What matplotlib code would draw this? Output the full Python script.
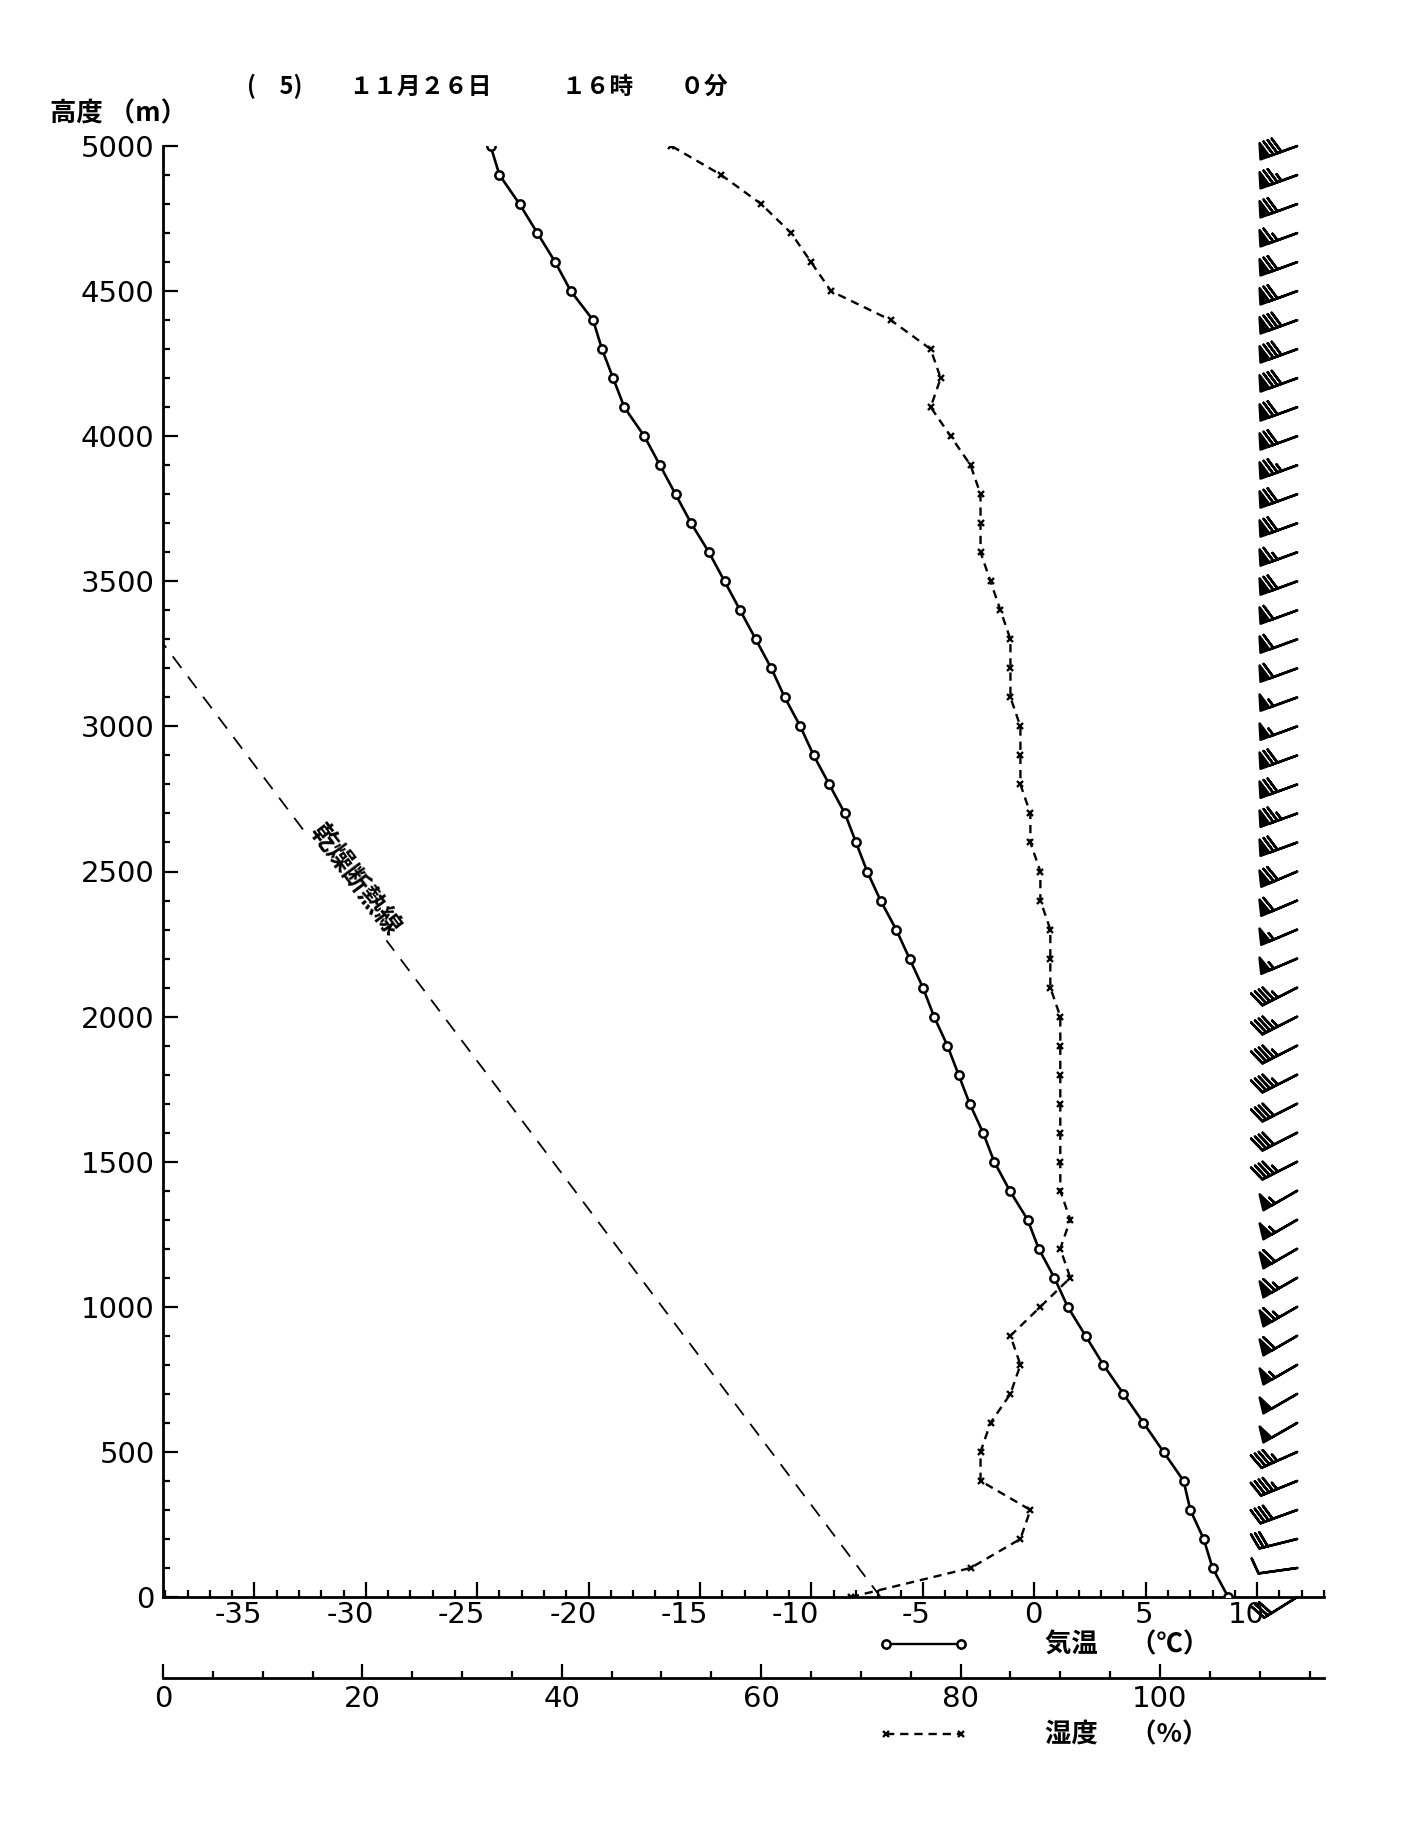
import numpy as np
import matplotlib.pyplot as plt
from matplotlib.lines import Line2D
from matplotlib.ticker import FixedLocator, MultipleLocator
import matplotlib.transforms as mtransforms

plt.rcParams['font.family'] = ['DejaVu Sans', 'Noto Sans CJK JP']
plt.rcParams['axes.unicode_minus'] = False
JP = ['Noto Sans CJK JP', 'DejaVu Sans']

# observation levels (m), 0 -> 5000
heights = list(range(0, 5001, 100))

# air temperature (deg C)
temp = [8.7, 8.0, 7.6, 7.0, 6.7, 5.8, 4.9, 4.0, 3.1, 2.3,
        1.5, 0.9, 0.2, -0.3, -1.1, -1.8, -2.3, -2.9, -3.4, -3.9,
        -4.5, -5.0, -5.6, -6.2, -6.9, -7.5, -8.0, -8.5, -9.2, -9.9,
        -10.5, -11.2, -11.8, -12.5, -13.2, -13.9, -14.6, -15.4, -16.1, -16.8,
        -17.5, -18.4, -18.9, -19.4, -19.8, -20.8, -21.5, -22.3, -23.1, -24.0,
        -24.4]

# relative humidity (%)
humid = [69, 81, 86, 87, 82, 82, 83, 85, 86, 85,
         88, 91, 90, 91, 90, 90, 90, 90, 90, 90,
         90, 89, 89, 89, 88, 88, 87, 87, 86, 86,
         86, 85, 85, 85, 84, 83, 82, 82, 82, 81,
         79, 77, 78, 77, 73, 67, 65, 63, 60, 56,
         51]

# wind speed (kt) and direction (deg, from)
wind_spd = [30, 10, 30, 40, 45, 45, 50, 50, 55, 60,
            65, 65, 60, 55, 55, 45, 40, 40, 45, 45,
            45, 45, 55, 55, 60, 70, 70, 75, 70, 70,
            55, 55, 60, 60, 60, 70, 65, 70, 70, 75,
            70, 70, 80, 80, 80, 70, 70, 65, 70, 75,
            80]
wind_dir = [238, 262, 256, 250, 248, 246, 240, 240, 240, 240,
            240, 240, 240, 240, 240, 243, 243, 243, 243, 243,
            243, 243, 247, 247, 247, 247, 250, 250, 250, 250,
            250, 250, 250, 250, 250, 250, 250, 250, 250, 250,
            250, 250, 250, 250, 250, 250, 250, 250, 250, 250,
            250]

# dry adiabat: surface temperature and lapse rate
dry_t0 = -6.9
dry_lapse = 9.8  # deg C / km

temp_ticks = [-35, -30, -25, -20, -15, -10, -5, 0, 5, 10]
hum_ticks = [0, 20, 40, 60, 80, 100]
height_ticks = list(range(0, 5001, 500))

title = '(　5)　　１１月２６日　　　１６時　　０分'

W, H = 1419, 1821
fig = plt.figure(figsize=(W / 100, H / 100), dpi=100)
t_lo, t_hi = -39.1, 13.0
ax = fig.add_axes([163 / W, 1 - 1597 / H, (1324 - 163) / W, (1597 - 146) / H])
ax.set_xlim(t_lo, t_hi)
ax.set_ylim(0, 5000)
for s in ('top', 'right'):
    ax.spines[s].set_visible(False)
for s in ('left', 'bottom'):
    ax.spines[s].set_linewidth(2.0)

# temperature profile
ax.plot(temp, heights, color='k', lw=1.9, marker='o', ms=6,
        mfc='white', mec='k', mew=1.8, zorder=4)
# humidity profile, mapped onto the temperature axis through the second scale
h_lo, h_hi = 0, 116.45
hum_as_t = [t_lo + (h - h_lo) / (h_hi - h_lo) * (t_hi - t_lo) for h in humid]
ax.plot(hum_as_t, heights, color='k', lw=1.7, dashes=(3.5, 2.5),
        marker='x', ms=5, mew=1.7, zorder=3)

# dry adiabat
z_top = (dry_t0 - t_lo) / dry_lapse * 1000
ax.plot([dry_t0, t_lo], [0, z_top], color='k', lw=1.3, dashes=(8, 6))
zt = 2470
ax.text(dry_t0 - dry_lapse * zt / 1000 + 0.6, zt, '乾燥断熱線', family=JP,
        fontsize=19, fontweight='bold', rotation=-53, rotation_mode='anchor',
        ha='center', va='center',
        bbox=dict(boxstyle='square,pad=0.05', fc='white', ec='none'))

# wind barbs
spd = np.array(wind_spd, dtype=float)
d = np.deg2rad(wind_dir)
u = -spd * np.sin(d)
v = -spd * np.cos(d)
ax.barbs(np.full(len(heights), 11.8), heights, u, v, length=7.5,
         sizes=dict(spacing=0.11, height=0.4, width=0.24),
         lw=1.8, color='k', clip_on=False, zorder=5)

# axes ticks
ax.yaxis.set_major_locator(FixedLocator(height_ticks))
ax.yaxis.set_minor_locator(MultipleLocator(100))
ax.xaxis.set_major_locator(FixedLocator(temp_ticks))
ax.xaxis.set_minor_locator(MultipleLocator(1))
ax.tick_params(which='both', direction='in', width=1.6, labelsize=21)
ax.tick_params(which='major', length=11)
ax.tick_params(which='minor', length=5)
ax.tick_params(axis='y', pad=6)
ax.tick_params(axis='x', pad=3)
ax.set_yticklabels([str(t) for t in height_ticks])
ax.set_xticklabels([str(t) for t in temp_ticks])
off = mtransforms.ScaledTranslation(8 / 100, 0, fig.dpi_scale_trans)
for lbl in ax.get_xticklabels():
    lbl.set_ha('right')
    lbl.set_transform(lbl.get_transform() + off)

# humidity scale
ax2 = fig.add_axes([163 / W, 1 - 1678 / H, (1324 - 163) / W, 0.001])
ax2.set_xlim(h_lo, h_hi)
ax2.set_yticks([])
for s in ('top', 'right', 'left'):
    ax2.spines[s].set_visible(False)
ax2.spines['bottom'].set_linewidth(2.0)
ax2.xaxis.set_major_locator(FixedLocator(hum_ticks))
ax2.xaxis.set_minor_locator(MultipleLocator(5))
ax2.tick_params(which='both', direction='in', width=1.6, labelsize=21, pad=5)
ax2.tick_params(which='major', length=10)
ax2.tick_params(which='minor', length=5)
ax2.set_xticklabels([str(t) for t in hum_ticks])

# texts
fig.text(247 / W, 1 - 86 / H, title, family=JP, fontsize=17,
         fontweight='bold', ha='left', va='center')
fig.text(50 / W, 1 - 114 / H, '高度 （m）', family=JP, fontsize=19,
         fontweight='bold', ha='left', va='center')

# legend rows
fig.add_artist(Line2D([886 / W, 961 / W], [1 - 1644 / H] * 2, color='k', lw=1.7,
                      marker='o', ms=6, mfc='white', mew=1.8))
fig.text(1045 / W, 1 - 1645 / H, '気温　 （℃）', family=JP, fontsize=19,
         fontweight='bold', ha='left', va='center')
fig.add_artist(Line2D([886 / W, 961 / W], [1 - 1734 / H] * 2, color='k', lw=1.7,
                      dashes=(3.5, 2.5), marker='x', ms=5, mew=1.7))
fig.text(1045 / W, 1 - 1735 / H, '湿度　 （%）', family=JP, fontsize=19,
         fontweight='bold', ha='left', va='center')

fig.savefig('out.png', dpi=100, facecolor='white')
